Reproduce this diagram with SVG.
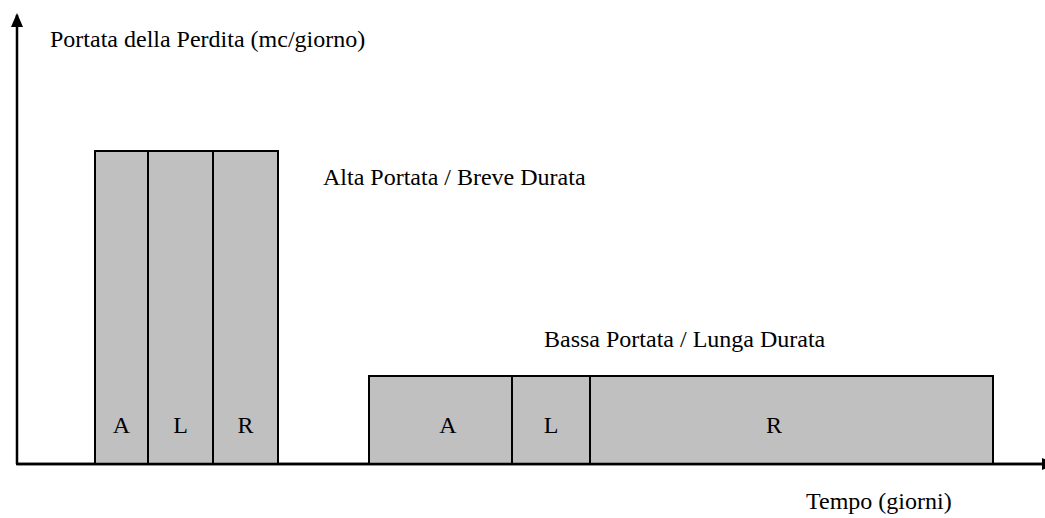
<svg xmlns="http://www.w3.org/2000/svg" width="1045" height="518" viewBox="0 0 1045 518">
<style>
.bar{fill:#c0c0c0;stroke:#000;stroke-width:2}
.t{font-family:"Liberation Serif","Times New Roman",serif;font-size:24px;fill:#000}
.c{text-anchor:middle}
.ax{stroke:#000;stroke-width:2.5;fill:none}
</style>
<defs>
<marker id="ah" markerWidth="14" markerHeight="12" refX="12" refY="6" orient="auto" markerUnits="userSpaceOnUse">
<path d="M0,0 L14,6 L0,12 Z" fill="#000"/>
</marker>
</defs>
<g id="connectors">
<line class="ax" x1="17" y1="464" x2="17" y2="15" marker-end="url(#ah)"/>
<line class="ax" x1="16" y1="464" x2="1054" y2="464" marker-end="url(#ah)"/>
</g>
<g id="high">
<rect class="bar" x="95" y="151" width="53" height="313"/>
<rect class="bar" x="148" y="151" width="65" height="313"/>
<rect class="bar" x="213" y="151" width="65" height="313"/>
<text class="t c" x="121.5" y="433">A</text>
<text class="t c" x="180.5" y="433">L</text>
<text class="t c" x="245.5" y="433">R</text>
</g>
<g id="low">
<rect class="bar" x="369" y="376" width="143" height="88"/>
<rect class="bar" x="512" y="376" width="78" height="88"/>
<rect class="bar" x="590" y="376" width="403" height="88"/>
<text class="t c" x="448" y="433">A</text>
<text class="t c" x="551" y="433">L</text>
<text class="t c" x="774" y="433">R</text>
</g>
<g id="labels">
<text class="t" x="50" y="47">Portata della Perdita (mc/giorno)</text>
<text class="t" x="323" y="185">Alta Portata / Breve Durata</text>
<text class="t" x="544" y="347">Bassa Portata / Lunga Durata</text>
<text class="t" x="806" y="509">Tempo (giorni)</text>
</g>
<line class="ax" x1="17" y1="464" x2="1045" y2="464"/>
</svg>
